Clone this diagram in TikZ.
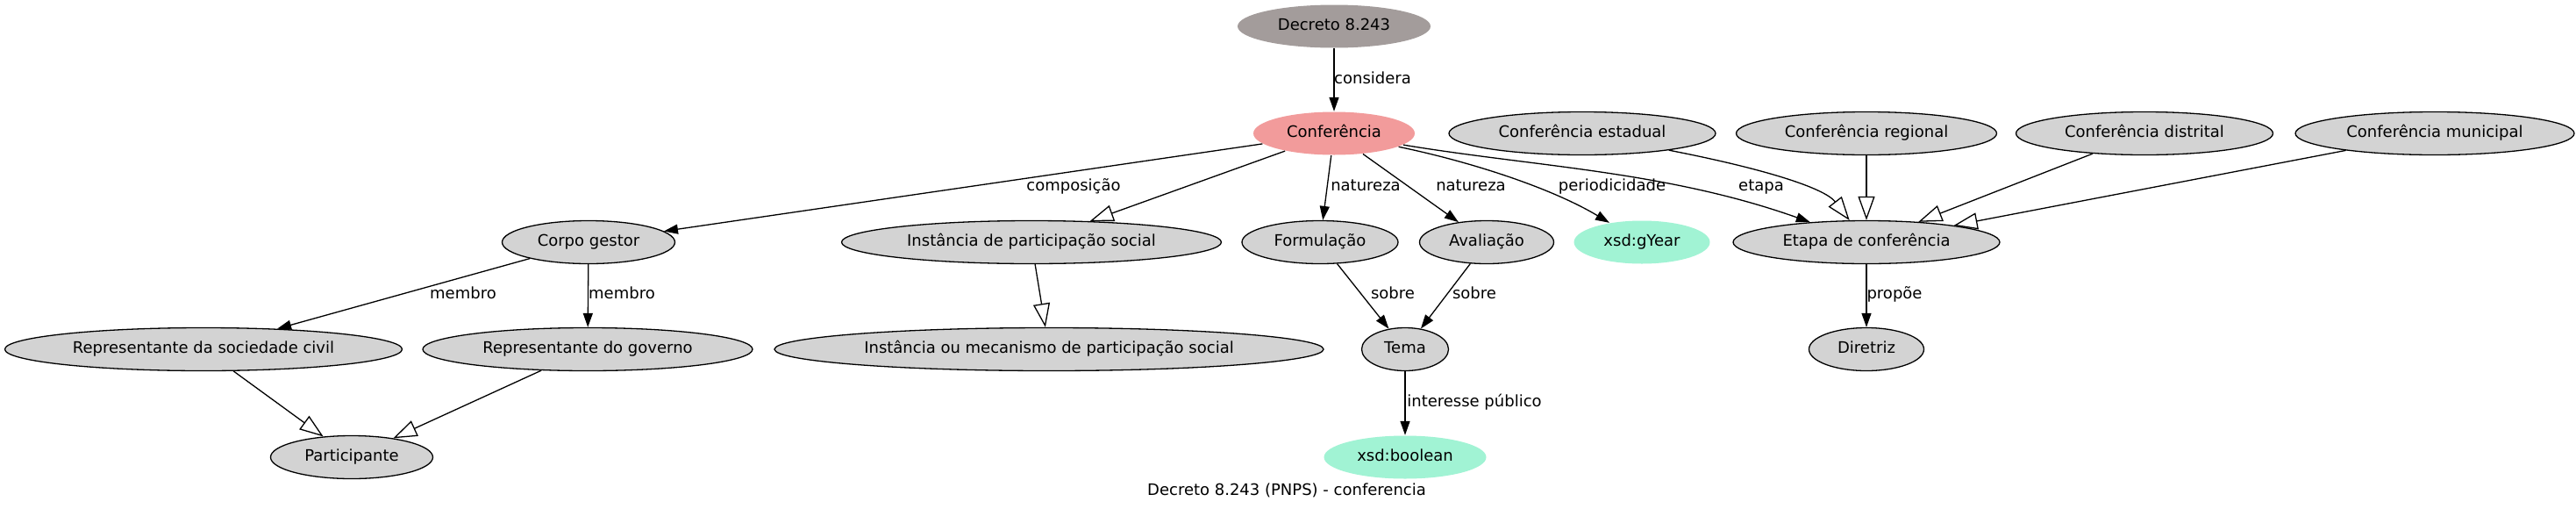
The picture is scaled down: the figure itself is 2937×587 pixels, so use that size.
\documentclass[tikz,border=0pt]{standalone}
\usepackage{fontspec}
\setmainfont{DejaVu Sans}
\usetikzlibrary{shapes.geometric,arrows.meta}
\definecolor{decgray}{HTML}{A39C9B}
\definecolor{confred}{HTML}{F29B9B}
\definecolor{xsdgreen}{HTML}{A1F3D4}
\definecolor{nodegray}{HTML}{D3D3D3}
\tikzset{
  txt/.style={font=\fontsize{18pt}{21pt}\selectfont, text height=13pt, text depth=4pt},
  cls/.style={txt, ellipse, draw=black, line width=1.3pt, fill=nodegray, inner sep=0pt, minimum height=49pt},
  dec/.style={cls, draw=none, fill=decgray},
  conf/.style={cls, draw=none, fill=confred},
  lit/.style={cls, draw=none, fill=xsdgreen},
  lbl/.style={txt, inner sep=0pt},
  arr/.style={draw=black, line width=1.3pt, -{Triangle[length=16pt,width=11pt]}},
  sub/.style={draw=black, line width=1.3pt, -{Triangle[length=27pt,width=19pt,fill=white]}}
}
\begin{document}
\begin{tikzpicture}[x=1pt,y=-1pt]
\useasboundingbox[fill=white] (0,0) rectangle (2937,587);
% row 1
\node[dec, minimum width=220pt] (dec) at (1521,30) {Decreto 8.243};
% row 2
\node[conf, minimum width=184pt] (conf) at (1521,152) {Conferência};
\node[cls, minimum width=304pt] (est) at (1804,152) {Conferência estadual};
\node[cls, minimum width=297pt] (reg) at (2128,152) {Conferência regional};
\node[cls, minimum width=293pt] (dis) at (2445,152) {Conferência distrital};
\node[cls, minimum width=318pt] (mun) at (2776,152) {Conferência municipal};
% row 3
\node[cls, minimum width=197pt] (corpo) at (671,276) {Corpo gestor};
\node[cls, minimum width=433pt] (psoc) at (1176,276) {Instância de participação social};
\node[cls, minimum width=178pt] (form) at (1505,276) {Formulação};
\node[cls, minimum width=153pt] (aval) at (1695,276) {Avaliação};
\node[lit, minimum width=155pt] (gyear) at (1872,276) {xsd:gYear};
\node[cls, minimum width=304pt] (etapa) at (2128,276) {Etapa de conferência};
% row 4
\node[cls, minimum width=453pt] (rsoc) at (232,398) {Representante da sociedade civil};
\node[cls, minimum width=376pt] (rgov) at (670,398) {Representante do governo};
\node[cls, minimum width=626pt] (mec) at (1196,398) {Instância ou mecanismo de participação social};
\node[cls, minimum width=99pt] (tema) at (1602,398) {Tema};
\node[cls, minimum width=131pt] (dir) at (2128,398) {Diretriz};
% row 5
\node[cls, minimum width=185pt] (part) at (401,521) {Participante};
\node[lit, minimum width=185pt] (bool) at (1602,521) {xsd:boolean};
% caption
\node[lbl] (cap) at (1467,560) {Decreto 8.243 (PNPS) - conferencia};

% edges
\draw[arr] (dec) -- (conf);
\node[lbl] (lcons) at (1565,91) {considera};
\draw[arr] (conf) -- (corpo);
\node[lbl] (lcomp) at (1224,213) {composição};
\draw[sub] (conf) -- (psoc);
\draw[arr] (conf) -- (form);
\node[lbl] (lnat1) at (1557,213) {natureza};
\draw[arr] (conf) -- (aval);
\node[lbl] (lnat2) at (1677,213) {natureza};
\draw[arr] (conf) .. controls (1680,185) and (1770,215) .. (gyear);
\node[lbl] (lper) at (1838,213) {periodicidade};
\draw[arr] (conf) .. controls (1750,190) and (1900,195) .. (etapa);
\node[lbl] (letapa) at (2008,213) {etapa};
\draw[sub] (est) .. controls (2010,192) and (2080,214) .. (etapa);
\draw[sub] (reg) -- (etapa);
\draw[sub] (dis) -- (etapa);
\draw[sub] (mun) -- (etapa);
\draw[arr] (etapa) -- (dir);
\node[lbl] (lprop) at (2160,336) {propõe};
\draw[arr] (corpo) -- (rsoc);
\node[lbl] (lmem1) at (528,336) {membro};
\draw[arr] (corpo) -- (rgov);
\node[lbl] (lmem2) at (709,336) {membro};
\draw[sub] (rsoc) -- (part);
\draw[sub] (rgov) -- (part);
\draw[sub] (psoc) -- (mec);
\draw[arr] (form) -- (tema);
\node[lbl] (lsob1) at (1588,336) {sobre};
\draw[arr] (aval) -- (tema);
\node[lbl] (lsob2) at (1681,336) {sobre};
\draw[arr] (tema) -- (bool);
\node[lbl] (lint) at (1681,459) {interesse público};
\end{tikzpicture}
\end{document}
